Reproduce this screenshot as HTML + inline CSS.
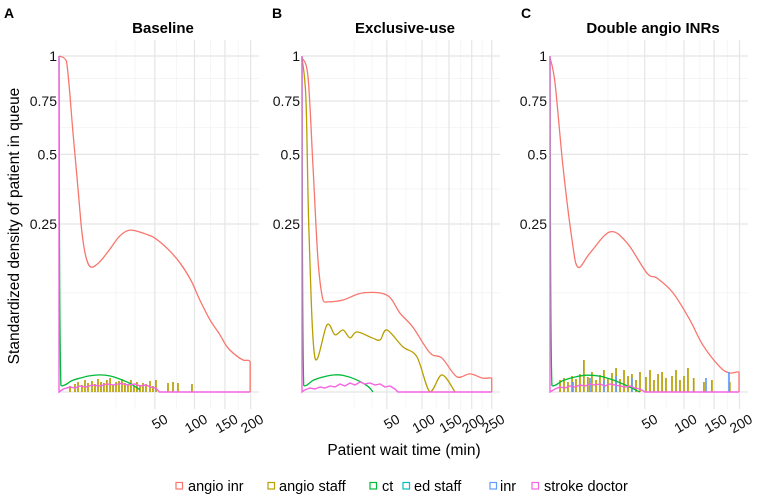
<!DOCTYPE html>
<html><head><meta charset="utf-8"><style>
body{margin:0;background:#fff}
svg{display:block;font-family:"Liberation Sans",Arial,sans-serif}
</style></head><body>
<svg id="chart" width="765" height="496" viewBox="0 0 765 496">
<g id="root"></g>
</svg>
<script>
// ---------- data ----------
const seriesNames=["angio inr","angio staff","ct","ed staff","inr","stroke doctor"];
const panelTitles=["Baseline","Exclusive-use","Double angio INRs"];
const panelLetters=["A","B","C"];
const yTickValues=[0.25,0.5,0.75,1];
const yTickLabels=["0.25","0.5","0.75","1"];
const yMinorValues=[0.087,0.365,0.62,0.87];
const xTickValuesA=[50,100,150,200];
const xTickValuesB=[50,100,150,200,250];
const xTickValuesC=[50,100,150,200];
const xMinorA=[17.7,31.5,75,125,175];
const xMinorB=[18.8,34,75,125,175,225];
const xMinorC=[18.7,33.9,75,125,175];
// Panel A
const redA_t=[0,0.3,1.07,2.0,2.88,4,5.6,9,14,20,27.5,40,50,65,80,95,108,125,140,154,170,185,199,199];
const redA_v=[1,0.97,0.594,0.36,0.224,0.16,0.138,0.15,0.18,0.215,0.232,0.222,0.21,0.18,0.147,0.11,0.075,0.045,0.03,0.018,0.012,0.009,0.008,0];
const ctA_t=[0,0.02,1,2.4,5,9.2,14,20,28,35.7];
const ctA_v=[1,0.0004,0.0012,0.0017,0.0023,0.0026,0.0023,0.0015,0.0006,0.00004];
const staffA_t=[0.66,1.39,1.97,2.88,3.68,4.58,5.93,7.06,8.28,9.61,11.0,12.5,14.2,15.9,17.7,19.6,21.6,23.7,25.9,28.2,30.6,33.1,35.7,38.4,41.2,45.1,48.1,51.2,64.7,70.8,77.1,96.3];
const staffA_v=[0.00032,0.00057,0.00089,0.00043,0.00128,0.00072,0.00107,0.00057,0.0015,0.00089,0.00072,0.00128,0.00174,0.00043,0.00089,0.00107,0.0015,0.00072,0.00057,0.00128,0.00032,0.00089,0.00043,0.00072,0.00057,0.00107,0.00032,0.00128,0.00072,0.00089,0.00072,0.00057];
const docA_t=[0,0,0.1,0.66,1.39,2.4,3.97,5.93,9.16,12.5,16,20.9,25.9,31,36,41,46,51,55,199];
const docA_v=[1,0,0.00008,0.00022,0.00014,0.00032,0.00022,0.00043,0.00032,0.00057,0.00043,0.00064,0.00043,0.00057,0.00032,0.00043,0.00022,0.00014,0,0];
// Panel B
const redB_t=[0,0.25,0.84,1.78,3.06,4.7,11.7,25.8,50.2,66.7,85.6,113.8,136,167,196,227,250,250];
const redB_v=[0.99,0.88,0.45,0.154,0.075,0.072,0.075,0.087,0.083,0.055,0.037,0.0135,0.0102,0.002,0.0029,0.0017,0.0017,0];
const staffB_t=[0,0.11,0.34,1.17,4.34,7.56,11.7,16,21,34,42.3,50.2,70.8,91.8,113.8,136,162.6];
const staffB_v=[0.99,0.755,0.224,0.0102,0.04,0.029,0.034,0.026,0.032,0.026,0.024,0.034,0.018,0.0109,0,0.0026,0];
const ctB_t=[0,0.02,1,4,7.56,12,20,30,35];
const ctB_v=[1,0.0004,0.0013,0.0022,0.0026,0.0024,0.0014,0.0003,0];
const docB_t=[0,0,0.06,0.44,1.17,2.25,3.67,5.44,7.56,10,12.8,16,19.5,23.4,27.6,32.1,37,42.3,47.8,53.8,60,64,250];
const docB_v=[1,0,0.00004,0.00014,0.00008,0.00022,0.00014,0.00032,0.00022,0.00057,0.00032,0.00072,0.00043,0.00089,0.00057,0.00072,0.00043,0.00057,0.00022,0.00032,0.00008,0,0];
// Panel C
const redC_t=[0,0.14,0.94,2.7,4.37,8.9,20,33,52.4,63.8,84.3,109,130,161,180,199,199];
const redC_v=[0.99,0.846,0.45,0.205,0.138,0.171,0.227,0.197,0.125,0.115,0.087,0.046,0.0196,0.0055,0.0032,0.0035,0];
const ctC_t=[0,0.02,1,3.5,7.6,14,22,32,45];
const ctC_v=[1,0.0004,0.0012,0.002,0.0025,0.0022,0.0013,0.0004,0];
const staffC_t=[0.56,1.09,1.8,2.7,3.76,5.0,6.4,8.0,9.8,11.8,13.9,16.2,18.7,21.4,24.3,27.3,30.5,33.9,37.4,41.2,45.1,51.3,55.7,60.2,65,69.9,74.9,82.9,88.4,94.1,100,106,115,132,146,180];
const staffC_h=[12,14,10,16,13,18,32,15,20,12,17,22,14,19,24,13,22,16,18,12,20,15,22,12,18,20,14,16,22,12,16,24,14,10,12,10];
const inrC_t=[2.95,8.9,16.2,24.3,37.4,135.5,178.4];
const inrC_h=[10,14,12,16,14,14,20];
const docC_t=[0,0,0.14,0.56,1.25,2.23,3.48,5.0,6.8,8.9,11.3,13.9,16.8,20,23.5,27.3,31.3,35.6,40.2,45.1,50.3,199];
const docC_v=[1,0,0.00008,0.00022,0.00014,0.00032,0.00022,0.00043,0.00032,0.00057,0.00043,0.00057,0.00032,0.00057,0.00043,0.00032,0.00022,0.00032,0.00014,0.00008,0,0];

const COL=["#F8766D","#B79F00","#00BA38","#00BFC4","#619CFF","#F564E3"];
const NS="http://www.w3.org/2000/svg";
const root=document.getElementById('root');
function mk(tag,attrs,parent){const e=document.createElementNS(NS,tag);for(const k in attrs)e.setAttribute(k,attrs[k]);(parent||root).appendChild(e);return e;}

const panels=[
 {x0:59,x1:259,sc:13.55,ticks:xTickValuesA,minor:xMinorA,labX:57,letterX:4},
 {x0:302,x1:500,sc:12.0,ticks:xTickValuesB,minor:xMinorB,labX:300,letterX:272},
 {x0:550,x1:748,sc:13.4,ticks:xTickValuesC,minor:xMinorC,labX:547,letterX:521}
];
const Y0=392,YS=336,TOP=40,BOT=409;
function yPx(v){return Y0-YS*Math.sqrt(Math.max(0,v));}
function hToV(h){return (h/YS)*(h/YS);}
function clamp(v,a,b){const lo=Math.min(a,b),hi=Math.max(a,b);return Math.min(Math.max(v,lo),hi);}

function catmull(pts){
 let d="M"+pts[0][0].toFixed(2)+","+pts[0][1].toFixed(2);
 for(let i=0;i<pts.length-1;i++){
  const p0=pts[i-1]||pts[i],p1=pts[i],p2=pts[i+1],p3=pts[i+2]||p2;
  if(Math.abs(p1[0]-p2[0])<0.01){d+="L"+p2[0].toFixed(2)+","+p2[1].toFixed(2);continue;}
  let c1x=p1[0]+(p2[0]-p0[0])/6,c1y=p1[1]+(p2[1]-p0[1])/6;
  let c2x=p2[0]-(p3[0]-p1[0])/6,c2y=p2[1]-(p3[1]-p1[1])/6;
  c1x=clamp(c1x,p1[0],p2[0]);c2x=clamp(c2x,p1[0],p2[0]);
  const span=Math.abs(p2[1]-p1[1])+3;
  c1y=clamp(c1y,Math.min(p1[1],p2[1])-span*0.3,Math.max(p1[1],p2[1])+span*0.3);
  c2y=clamp(c2y,Math.min(p1[1],p2[1])-span*0.3,Math.max(p1[1],p2[1])+span*0.3);
  c1y=Math.min(Math.max(c1y,56),Y0);c2y=Math.min(Math.max(c2y,56),Y0);
  d+="C"+c1x.toFixed(2)+","+c1y.toFixed(2)+" "+c2x.toFixed(2)+","+c2y.toFixed(2)+" "+p2[0].toFixed(2)+","+p2[1].toFixed(2);
 }
 return d;
}

panels.forEach((p,i)=>{
 const xPx=t=>p.x0+p.sc*Math.sqrt(t);
 const g=mk('g',{});
 
 
 p.minor.forEach(t=>{const l=mk('line',{x1:xPx(t),x2:xPx(t),y1:TOP,y2:BOT,stroke:'#f2f2f2','stroke-width':0.7},g);});
 yMinorValues.forEach(v=>{const l=mk('line',{x1:p.x0,x2:p.x1,y1:yPx(v),y2:yPx(v),stroke:'#f2f2f2','stroke-width':0.7},g);});
 p.ticks.forEach(t=>{const l=mk('line',{x1:xPx(t),x2:xPx(t),y1:TOP,y2:BOT,stroke:'#e5e5e5','stroke-width':1.2},g);});
 yTickValues.concat([0]).forEach(v=>{const l=mk('line',{x1:p.x0,x2:p.x1,y1:yPx(v),y2:yPx(v),stroke:'#e5e5e5','stroke-width':1.2},g);});
 yTickValues.forEach((v,k)=>{const t=mk('text',{x:p.labX,y:yPx(v)+5,'text-anchor':'end','font-size':14,fill:'#111'},g);t.textContent=yTickLabels[k];});
 p.ticks.forEach(v=>{const x=xPx(v)+14,y=422;const t=mk('text',{x:x,y:y,'text-anchor':'end','font-size':14,fill:'#111',transform:'rotate(-30 '+x+' '+y+')'},g);t.textContent=String(v);});
 const tt=mk('text',{x:(p.x0+p.x1)/2+4,y:33,'text-anchor':'middle','font-size':15,'font-weight':'bold',fill:'#000'},g);tt.textContent=panelTitles[i];
 const lt=mk('text',{x:p.letterX,y:18,'font-size':14,'font-weight':'bold',fill:'#000'},g);lt.textContent=panelLetters[i];

 function curve(ts,vs,col,name,w){const pts=ts.map((t,k)=>[xPx(t),yPx(vs[k])]);const e=mk('path',{d:catmull(pts),fill:'none',stroke:col,'stroke-width':w||1.3,'stroke-linejoin':'round'},g);}
 function poly(ts,vs,col,name){const e=mk('polyline',{points:ts.map((t,k)=>xPx(t).toFixed(2)+","+yPx(vs[k]).toFixed(2)).join(" "),fill:'none',stroke:col,'stroke-width':1.4},g);}
 function spikes(ts,vs,col,name){ts.forEach((t,k)=>{const e=mk('line',{x1:xPx(t),x2:xPx(t),y1:Y0,y2:yPx(vs[k]),stroke:col,'stroke-width':1.7},g);});}

 if(i===0){
  curve(redA_t,redA_v,COL[0],'angio-inr-line');
  spikes(staffA_t,staffA_v,COL[1],'angio-staff-spike');
  curve(ctA_t,ctA_v,COL[2],'ct-line');
  poly(docA_t,docA_v,COL[5],'stroke-doctor-line');
 }else if(i===1){
  curve(redB_t,redB_v,COL[0],'angio-inr-line');
  curve(staffB_t,staffB_v,COL[1],'angio-staff-line');
  curve(ctB_t,ctB_v,COL[2],'ct-line');
  poly(docB_t,docB_v,COL[5],'stroke-doctor-line');
 }else{
  curve(redC_t,redC_v,COL[0],'angio-inr-line');
  spikes(staffC_t,staffC_h.map(hToV),COL[1],'angio-staff-spike');
  spikes(inrC_t,inrC_h.map(hToV),COL[4],'inr-spike');
  curve(ctC_t,ctC_v,COL[2],'ct-line');
  poly(docC_t,docC_v,COL[5],'stroke-doctor-line');
 }
});

const yt=mk('text',{x:0,y:0,'text-anchor':'middle','font-size':15.5,fill:'#000',transform:'translate(19 226) rotate(-90)'});
yt.textContent="Standardized density of patient in queue";


const xt=mk('text',{x:404,y:455,'text-anchor':'middle','font-size':15.5,fill:'#000'});
xt.textContent="Patient wait time (min)";



const legSq=[176,268,370,403,490,532];
const legTx=[188,279,382,414,500,544];
seriesNames.forEach((n,k)=>{
 const g=mk('g',{});
 
 
 mk('rect',{x:legSq[k],y:482.5,width:6.5,height:6.5,fill:'#fff',stroke:COL[k],'stroke-width':1.2},g);
 const t=mk('text',{x:legTx[k],y:491,'font-size':14.5,fill:'#000'},g);t.textContent=n;
});
</script>
</body></html>
